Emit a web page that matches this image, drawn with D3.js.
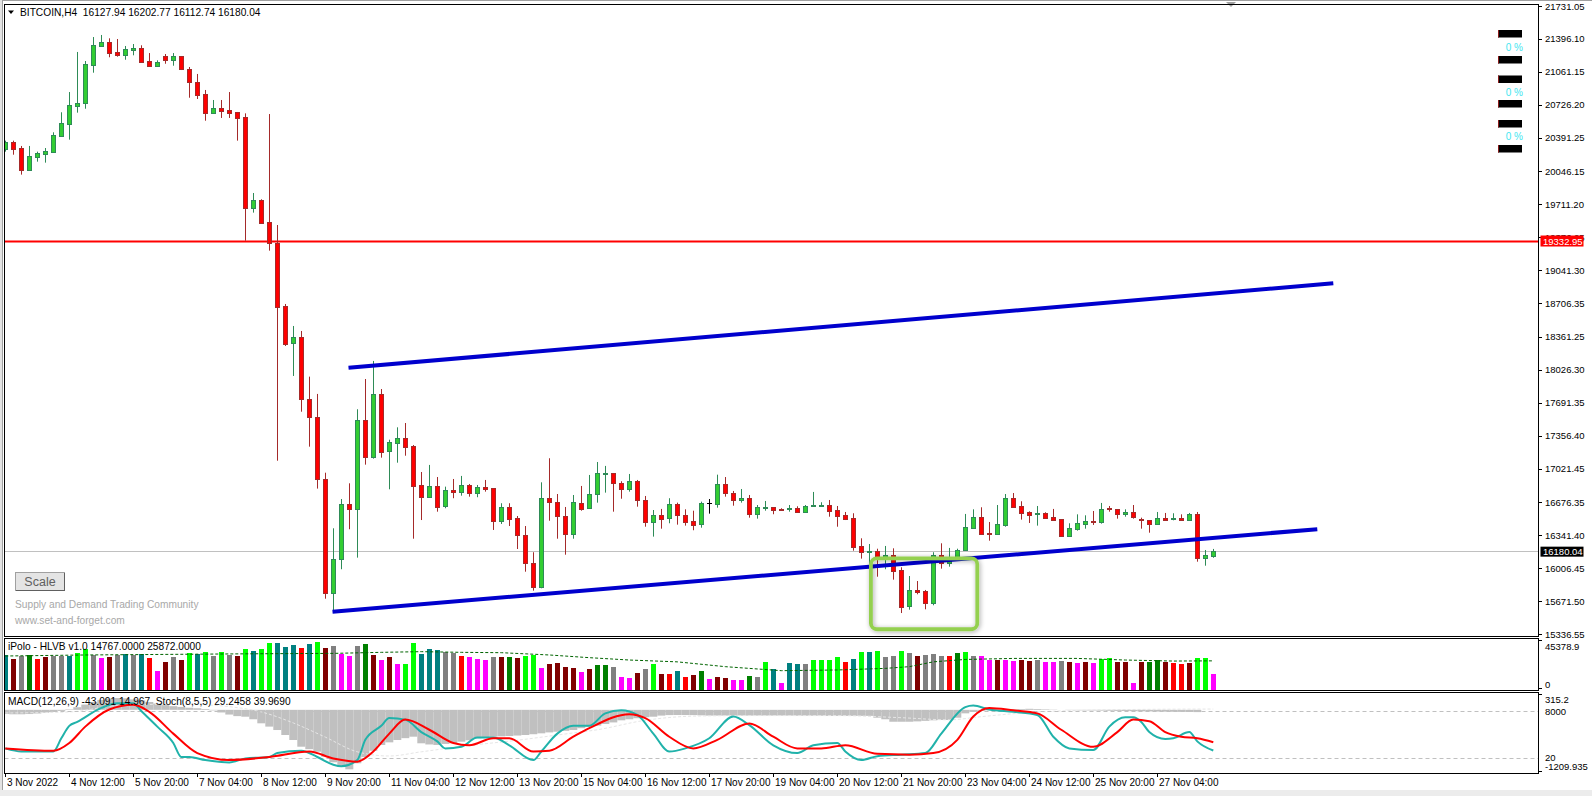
<!DOCTYPE html>
<html><head><meta charset="utf-8">
<script src="https://cdn.jsdelivr.net/npm/d3@7"></script>
<style>
html,body{margin:0;padding:0;background:#fff;overflow:hidden;}
svg{display:block;}
text{font-family:"Liberation Sans",Arial,sans-serif;white-space:pre;}
</style></head><body>
<svg id="chart" width="1592" height="796"></svg>
<script>
// ---------------- DATA ----------------
const symbolName = "BITCOIN,H4";
const lastBar = [16127.94, 16202.77, 16112.74, 16180.04];
const openP = [20272,20346,20285,20064,20197,20227,20248,20410,20533,20716,20746,21134,21324,21361,21263,21235,21286,21303,21171,21123,21219,21184,21222,21089,20957,20835,20645,20692,20675,20652,20601,19677,19756,19532,19315,18676,18297,18358,17727,17543,16915,15751,16097,16657,16606,17513,17136,17777,17197,17285,17329,17248,16851,16735,16841,16640,16803,16786,16851,16776,16834,16820,16490,16627,16515,16345,16060,15818,16718,16681,16535,16352,16671,16617,16759,16969,16976,16871,16816,16892,16698,16474,16545,16515,16660,16545,16487,16454,16671,16664,16864,16772,16704,16722,16556,16620,16627,16610,16606,16620,16576,16637,16647,16650,16599,16548,16515,16230,16172,16182,16118,16138,15988,15619,15782,15775,15656,16138,16057,16118,16192,16419,16525,16365,16358,16450,16718,16637,16576,16562,16565,16525,16505,16338,16409,16460,16487,16480,16617,16606,16562,16576,16505,16494,16460,16518,16505,16518,16501,16559,16114,16127.94];
const highP = [20360,20360,20306,20306,20248,20285,20445,20649,20855,21263,21171,21415,21436,21402,21395,21324,21344,21331,21252,21178,21242,21252,21222,21110,21039,20876,20774,20774,20855,20652,20638,19827,19763,20631,19501,18697,18473,18422,17957,17781,16979,16413,16711,16871,17625,17933,18117,17831,17315,17441,17485,17261,16986,17058,16935,16837,16915,16946,16864,16854,16905,16820,16668,16668,16538,16436,16169,16881,17126,16762,16630,16752,16844,16956,17088,17048,16976,16892,16966,16905,16742,16599,16610,16719,16674,16606,16592,16684,16711,16959,16935,16793,16813,16752,16650,16691,16627,16617,16650,16637,16650,16783,16678,16701,16640,16579,16566,16311,16253,16205,16233,16209,16016,15927,15876,15785,16169,16260,16213,16205,16559,16606,16627,16477,16650,16762,16772,16688,16586,16640,16576,16610,16505,16464,16555,16545,16589,16671,16640,16606,16606,16650,16521,16494,16579,16569,16566,16555,16569,16579,16192,16202.77];
const lowP = [20248,20217,20014,20054,20146,20136,20238,20410,20370,20645,20685,21052,21317,21209,21215,21184,21229,21164,21113,21113,21143,21123,21079,20797,20784,20563,20645,20591,20591,20360,19341,19627,19525,19240,17101,18269,17964,17600,17244,16817,15696,15564,15996,16403,16114,17061,17122,17132,16810,17081,17152,16307,16497,16735,16582,16617,16719,16745,16735,16729,16786,16396,16457,16436,16202,15971,15778,15802,16490,16307,16144,16307,16592,16617,16674,16776,16582,16714,16786,16633,16429,16328,16409,16464,16450,16440,16393,16419,16562,16623,16735,16643,16674,16521,16511,16592,16556,16592,16582,16569,16576,16637,16633,16531,16429,16497,16185,16104,15880,15920,15996,15890,15550,15584,15741,15588,15629,16002,16022,16097,16185,16409,16358,16287,16348,16429,16623,16501,16467,16440,16511,16490,16338,16328,16389,16409,16447,16460,16582,16511,16531,16511,16409,16368,16460,16494,16494,16501,16501,16073,16032,16112.74];
const closeP = [20349,20278,20064,20204,20234,20255,20418,20540,20723,20743,21140,21334,21361,21255,21232,21293,21303,21164,21123,21161,21184,21219,21089,20954,20828,20645,20692,20665,20642,20591,19677,19756,19525,19315,18669,18290,18358,17727,17543,16912,15751,16097,16657,16606,17513,17142,17777,17193,17289,17329,17244,16847,16735,16841,16633,16800,16786,16851,16776,16831,16817,16490,16627,16511,16345,16057,15818,16718,16677,16535,16352,16681,16610,16762,16976,16976,16871,16816,16892,16704,16474,16545,16511,16660,16545,16480,16450,16671,16671,16864,16769,16704,16722,16556,16627,16630,16596,16603,16620,16576,16637,16647,16650,16592,16541,16511,16226,16169,16182,16118,16138,15981,15615,15782,15768,15656,16138,16057,16124,16192,16423,16525,16358,16358,16454,16718,16633,16572,16548,16569,16521,16501,16338,16413,16464,16484,16480,16606,16606,16562,16576,16531,16497,16460,16515,16501,16515,16501,16559,16114,16141,16180.04];

// time axis labels (one every 8 bars, starting at bar 0)
const timeLabels = ["3 Nov 2022","4 Nov 12:00","5 Nov 20:00","7 Nov 04:00","8 Nov 12:00","9 Nov 20:00","11 Nov 04:00","12 Nov 12:00","13 Nov 20:00","15 Nov 04:00","16 Nov 12:00","17 Nov 20:00","19 Nov 04:00","20 Nov 12:00","21 Nov 20:00","23 Nov 04:00","24 Nov 12:00","25 Nov 20:00","27 Nov 04:00"];
const priceTicks = [21731.05,21396.10,21061.15,20726.20,20391.25,20046.15,19711.20,19376.25,19041.30,18706.35,18361.25,18026.30,17691.35,17356.40,17021.45,16676.35,16341.40,16006.45,15671.50,15336.55];
const resistanceLevel = 19332.95;
const upperTrend = [[42.9,18048],[166,18907]];
const lowerTrend = [[40.9,15564],[164,16404]];
const zoneBox = {bar0:108.2, bar1:121.5, pTop:16107, pBot:15385};
const zonePercents = ["0 %","0 %","0 %"];

// iPolo HLVB volume
const volMax = 45378.9;
const volHeader = [14767.0, 25872.0];
const volClass = ["T","M","G","g","R","M","G","G","T","L","L","G","P","M","G","T","G","T","R","P","M","G","M","L","T","L","G","L","G","M","L","T","L","L","T","T","T","R","T","L","M","G","P","P","G","g","M","P","M","P","L","L","T","T","T","G","G","R","P","P","P","G","M","g","M","L","L","P","M","M","M","M","P",
"M","g","g","G","P","P","M","G","L","M","R","T","R","M","g","P","M","M","P","P","g","G","L","T","P","T","T","G","L","L","L","L","R","T","L","T","L","G","G","L","G","M","G","G","G","R","g","L","G","P","P","M","P","P","M","M","G","P","P","G","M","P","M","P","L","L","M","M","P","M","g","g","M","R","R","M","L","L","P"];
const volume = [30981,27490,30108,30981,27490,29526,30108,30108,30108,32726,35927,31272,28363,29526,30690,31854,31272,31854,28654,17018,24872,29526,26617,32726,31854,33599,30108,33599,31272,30108,35927,34762,35927,41163,41453,37672,39708,37090,40290,42326,37090,39126,32144,30108,38835,40581,31272,26617,29235,23127,23127,41745,31854,35927,35344,33890,33017,30108,28945,27490,26617,29526,29235,29235,28363,30399,31272,19345,23127,23999,20799,19636,16145,
18763,22254,22254,20508,11781,10909,15272,18763,23127,14400,14400,17018,11781,13527,17018,10036,11781,10909,9163,9163,12654,11781,24872,18763,6545,23999,23127,23127,26617,26617,26617,29235,24872,27490,33599,33599,34472,29235,30108,34472,32726,30108,31272,31854,30108,30108,32726,33599,30108,30108,26617,26617,26617,25745,26617,25745,26617,24872,24872,25745,24872,24290,24872,23999,27490,28363,24872,24872,6545,24872,24872,26617,24872,23999,23417,23999,28363,28363,14767];
const volAvg = [[0,30100],[10,31000],[20,31500],[30,32000],[41,32400],[47,33300],[52,33900],[57,33300],[62,33000],[68,31000],[73,28650],[78,26600],[84,25000],[90,20800],[97,17300],[104,17900],[110,19300],[113,20800],[116,25000],[120,27100],[126,28000],[134,28000],[140,26600],[146,25700],[151,25872]];

// MACD(12,26,9) + Stoch(8,5,5)
const macdMin = -1209.935, macdMax = 315.2;
const macdHeader = [-43.091, 14.967];
const stochHeader = [29.2458, 39.9690];
const macdHist = [-80,-85,-85,-80,-70,-55,-40,-20,10,50,100,150,190,215,225,220,200,180,150,120,90,70,55,40,30,15,-10,-50,-90,-120,-131,-180,-257,-320,-385,-480,-575,-703,-750,-798,-893,-1000,-1084,-1134,-1019,-900,-780,-670,-620,-575,-540,-512,-638,-660,-670,-650,-638,-607,-580,-543,-525,-512,-505,-499,-490,-480,-465,-448,-430,-417,-400,-385,-350,-322,-300,-270,-240,-200,-180,-160,-140,-131,-110,-100,-99,-99,-100,-105,-110,-110,-110,-110,-110,-110,-110,-110,-110,-110,-110,-112,-112,-112,-112,-115,-115,-115,-115,-115,-115,-150,-180,-227,-227,-227,-220,-210,-200,-194,-194,-150,-67,-40,-20,-10,0,5,10,15,20,15,10,5,0,-5,-8,-10,-12,-15,-18,-20,-22,-25,-28,-30,-33,-35,-37,-39,-41,-43.091];
const macdSignal = [[0,-60],[8,-40],[14,80],[22,110],[28,60],[32,-40],[36,-250],[40,-520],[44,-800],[48,-880],[52,-800],[58,-680],[64,-580],[70,-460],[74,-380],[80,-200],[86,-120],[92,-110],[104,-110],[112,-150],[118,-190],[122,-130],[128,-50],[136,-5],[144,10],[151,14.967]];
const stochMain = [[0,32],[2,28],[6,28],[7,45],[8,61],[9,66],[12,84],[14,90],[16,90],[17,80],[19,60],[21,39],[22,21],[23,21],[25,17],[28,14],[30,19],[33,21],[34,26],[37,29],[39,21],[41,11],[42,9],[44,17],[45,43],[47,61],[48,71],[50,69],[52,53],[54,41],[55,32],[57,34],[59,46],[61,46],[63,36],[66,17],[67,28],[69,51],[71,61],[73,61],[75,77],[77,81],[79,75],[81,51],[83,28],[85,32],[88,45],[91,73],[93,62],[96,36],[99,26],[101,36],[104,39],[105,28],[107,17],[109,22],[112,24],[115,26],[117,51],[120,85],[121,87],[123,82],[126,79],[129,75],[131,47],[133,32],[136,30],[138,60],[140,72],[141,72],[142,66],[143,53],[145,44],[146,45],[148,53],[149,41],[151,29.2458]];
const stochSignal = [[0,32],[6,29],[8,39],[10,60],[13,82],[16,88],[18,79],[21,51],[24,26],[28,17],[33,21],[38,28],[41,19],[44,15],[46,28],[48,51],[50,69],[53,56],[56,39],[58,36],[61,45],[63,45],[66,28],[68,29],[71,47],[73,58],[78,76],[80,71],[83,47],[86,32],[89,43],[93,64],[96,47],[99,32],[102,32],[105,36],[109,25],[113,24],[116,26],[119,43],[121,73],[123,84],[126,81],[129,77],[132,56],[136,34],[139,53],[141,69],[143,67],[145,53],[147,47],[149,45],[151,39.969]];
const stochLevels = [80, 20];

// ---------------- DRAWING ----------------
const N = openP.length;
const svg = d3.select('#chart');
const FONT = 9.5, HFONT = 10.2;
const L = 4.5, R = 1538.5;
const PAN = {mainTop:4.5, mainBot:636.5, volTop:638.5, volBot:690.5, macdTop:692.5, macdBot:773.5};

const x = d3.scaleLinear().domain([0, N-1]).range([5.3, 5.3 + 8*(N-1)]);
const y = d3.scaleLinear().domain([15336.55, 21731.05]).range([634, 6]);
const yv = d3.scaleLinear().domain([0, volMax]).range([690.5, 638.5]);
const ym = d3.scaleLinear().domain([macdMin, macdMax]).range([773.3, 693.3]);
const ys = d3.scaleLinear().domain([0, 100]).range([773.3, 695.5]);

// window frame
svg.append('rect').attr('x',0).attr('y',0).attr('width',1592).attr('height',796).attr('fill','#ffffff');
svg.append('line').attr('x1',0).attr('x2',1592).attr('y1',0.5).attr('y2',0.5).attr('stroke','#a0a0a0');
svg.append('rect').attr('x',0).attr('y',0).attr('width',2).attr('height',796).attr('fill','#e3e3e3');
svg.append('rect').attr('x',0).attr('y',790).attr('width',1592).attr('height',6).attr('fill','#ececec');
svg.append('line').attr('x1',2.5).attr('x2',2.5).attr('y1',0).attr('y2',790).attr('stroke','#a0a0a0');

const defs = svg.append('defs');
function clip(id, y0, y1){
  defs.append('clipPath').attr('id',id).append('rect').attr('x',L+0.5).attr('y',y0).attr('width',R-L-1).attr('height',y1-y0);
  return 'url(#'+id+')';
}
const cMain = clip('cMain', PAN.mainTop+0.5, PAN.mainBot-0.5);
const cVol = clip('cVol', PAN.volTop+0.5, PAN.volBot-0.5);
const cMacd = clip('cMacd', PAN.macdTop+0.5, PAN.macdBot-0.5);

// ---- main panel ----
const gMain = svg.append('g').attr('clip-path', cMain);
gMain.append('line').attr('x1',L).attr('x2',R).attr('y1',Math.round(y(lastBar[3]))+0.5).attr('y2',Math.round(y(lastBar[3]))+0.5).attr('stroke','#c0c0c0').attr('stroke-width',1);
gMain.append('line').attr('x1',L).attr('x2',R).attr('y1',y(resistanceLevel)).attr('y2',y(resistanceLevel)).attr('stroke','#ff0000').attr('stroke-width',2);

const idx = d3.range(N);
const cg = gMain.append('g');
idx.forEach(i=>{
  const o=openP[i], h=highP[i], l=lowP[i], c=closeP[i];
  const cx = Math.round(x(i));
  let wick, body, border;
  if (c > o) { wick='#2e8b57'; body='#32cd32'; border='#2e8b57'; }
  else if (c < o) { wick='#a52a2a'; body='#ff0000'; border='#a52a2a'; }
  else { wick='#000'; body='#000'; border='#000'; }
  cg.append('line').attr('x1',cx+0.5).attr('x2',cx+0.5).attr('y1',y(h)).attr('y2',y(l)).attr('stroke',wick).attr('stroke-width',1);
  const top = Math.round(y(Math.max(o,c))), bot = Math.round(y(Math.min(o,c)));
  if (c === o) {
    cg.append('line').attr('x1',cx-2).attr('x2',cx+3).attr('y1',top+0.5).attr('y2',top+0.5).attr('stroke','#000');
  } else {
    const hgt = Math.max(1, bot-top);
    cg.append('rect').attr('x',cx-1.5).attr('y',top+0.5).attr('width',4).attr('height',hgt).attr('fill',body).attr('stroke',border).attr('stroke-width',1);
  }
});

const tl = d3.line().x(d=>x(d[0])).y(d=>y(d[1]));
gMain.append('path').attr('d',tl(upperTrend)).attr('stroke','#0000cd').attr('stroke-width',4).attr('fill','none');
gMain.append('path').attr('d',tl(lowerTrend)).attr('stroke','#0000cd').attr('stroke-width',4).attr('fill','none');

const flt = defs.append('filter').attr('id','sh').attr('x','-20%').attr('y','-20%').attr('width','140%').attr('height','140%');
flt.append('feGaussianBlur').attr('in','SourceAlpha').attr('stdDeviation',2.5).attr('result','b');
flt.append('feOffset').attr('in','b').attr('dx',1).attr('dy',1).attr('result','o');
flt.append('feComponentTransfer').attr('in','o').attr('result','o2').append('feFuncA').attr('type','linear').attr('slope',0.35);
const fm = flt.append('feMerge'); fm.append('feMergeNode').attr('in','o2'); fm.append('feMergeNode').attr('in','SourceGraphic');
svg.append('rect').attr('x',x(zoneBox.bar0)).attr('y',y(zoneBox.pTop)).attr('width',x(zoneBox.bar1)-x(zoneBox.bar0)).attr('height',y(zoneBox.pBot)-y(zoneBox.pTop))
  .attr('rx',6).attr('fill','none').attr('stroke','#94d050').attr('stroke-width',3.8).attr('filter','url(#sh)');

const markY = [30,56,75.5,100,120,145];
markY.forEach(v=>{
  svg.append('rect').attr('x',1498).attr('y',v).attr('width',24).attr('height',7.5).attr('fill','#000');
  svg.append('rect').attr('x',1498).attr('y',v).attr('width',1).attr('height',7.5).attr('fill','#8b1a1a');
});
[47.7,92.3,136.7].forEach((v,k)=>{
  svg.append('text').attr('x',1523).attr('y',v+3.5).attr('text-anchor','end').attr('font-size',10).attr('fill','#3fe6f0').text(zonePercents[k]);
});

svg.append('path').attr('d','M1226,2 L1236,2 L1231,7 Z').attr('fill','#a0a0a0');

svg.append('path').attr('d','M8,10.5 L14,10.5 L11,14 Z').attr('fill','#000');
svg.append('text').attr('x',20).attr('y',16.3).attr('font-size',HFONT).attr('fill','#000')
  .text(symbolName + '  ' + lastBar.map(v=>v.toFixed(2)).join(' '));

svg.append('rect').attr('x',15.5).attr('y',572.5).attr('width',49).attr('height',18).attr('fill','#e4e4e4').attr('stroke','#a0a0a0');
svg.append('line').attr('x1',16).attr('x2',65).attr('y1',590.5).attr('y2',590.5).attr('stroke','#606060');
svg.append('line').attr('x1',64.5).attr('x2',64.5).attr('y1',573).attr('y2',591).attr('stroke','#606060');
svg.append('text').attr('x',40).attr('y',586).attr('text-anchor','middle').attr('font-size',12.5).attr('fill','#606060').text('Scale');
svg.append('text').attr('x',15).attr('y',607.5).attr('font-size',HFONT).attr('fill','#a8a8a8').text('Supply and Demand Trading Community');
svg.append('text').attr('x',15).attr('y',623.5).attr('font-size',HFONT).attr('fill','#a8a8a8').text('www.set-and-forget.com');

// ---- volume panel ----
const volColor = {T:'#008080', M:'#800000', G:'#808080', g:'#008000', R:'#ff0000', L:'#00ff00', P:'#ff00ff'};
const gVol = svg.append('g').attr('clip-path', cVol);
idx.forEach(i=>{
  const cx = Math.round(x(i));
  const t = Math.round(yv(volume[i]));
  gVol.append('rect').attr('x',cx-2).attr('y',t).attr('width',5).attr('height',Math.max(0,690.5-t)).attr('fill',volColor[volClass[i]]);
});
gVol.append('path').attr('d',d3.line().x(d=>x(d[0])).y(d=>yv(d[1]))(volAvg)).attr('fill','none').attr('stroke','#006400').attr('stroke-width',1).attr('stroke-dasharray','3,2');
svg.append('text').attr('x',8).attr('y',650.2).attr('font-size',HFONT).attr('fill','#000')
  .text('iPolo - HLVB v1.0 ' + volHeader.map(v=>v.toFixed(4)).join(' '));

// ---- macd panel ----
const gM = svg.append('g').attr('clip-path', cMacd);
const z0 = ym(0);
idx.forEach(i=>{
  const cx = x(i);
  const v = ym(macdHist[i]);
  gM.append('rect').attr('x',cx-4).attr('y',Math.min(v,z0)).attr('width',8).attr('height',Math.abs(v-z0)).attr('fill','#c0c0c0');
});
gM.append('path').attr('d',d3.line().curve(d3.curveMonotoneX).x(d=>x(d[0])).y(d=>ym(d[1]))(macdSignal)).attr('fill','none').attr('stroke','#e6e6e6').attr('stroke-width',1).attr('stroke-dasharray','3,2');
stochLevels.forEach(v=>{
  gM.append('line').attr('x1',L).attr('x2',R).attr('y1',Math.round(ys(v))+0.5).attr('y2',Math.round(ys(v))+0.5).attr('stroke','#c0c0c0').attr('stroke-dasharray','4,3');
});
const sl = d3.line().curve(d3.curveMonotoneX).x(d=>x(d[0])).y(d=>ys(d[1]));
gM.append('path').attr('d',sl(stochMain)).attr('fill','none').attr('stroke','#20b2aa').attr('stroke-width',2);
gM.append('path').attr('d',sl(stochSignal)).attr('fill','none').attr('stroke','#ff0000').attr('stroke-width',2);
svg.append('text').attr('x',8).attr('y',705.2).attr('font-size',HFONT).attr('fill','#000')
  .text('MACD(12,26,9) ' + macdHeader[0].toFixed(3) + ' ' + macdHeader[1].toFixed(3) + '  Stoch(8,5,5) ' + stochHeader.map(v=>v.toFixed(4)).join(' '));

// ---- panel borders ----
[[PAN.mainTop,PAN.mainBot],[PAN.volTop,PAN.volBot],[PAN.macdTop,PAN.macdBot]].forEach(p=>{
  svg.append('rect').attr('x',L).attr('y',p[0]).attr('width',R-L).attr('height',p[1]-p[0]).attr('fill','none').attr('stroke','#000').attr('stroke-width',1);
});

// ---- price axis ----
const ax = svg.append('g');
priceTicks.forEach(v=>{
  const yy = y(v);
  ax.append('line').attr('x1',R).attr('x2',R+3.5).attr('y1',Math.round(yy)+0.5).attr('y2',Math.round(yy)+0.5).attr('stroke','#000');
  ax.append('text').attr('x',1545).attr('y',yy+3.5).attr('font-size',FONT).attr('fill','#000').text(v.toFixed(2));
});
const ry = y(resistanceLevel);
ax.append('rect').attr('x',1540.5).attr('y',ry-6).attr('width',43).attr('height',11).attr('fill','#ff0000');
ax.append('text').attr('x',1543).attr('y',ry+3.5).attr('font-size',FONT).attr('fill','#fff').text(resistanceLevel.toFixed(2));
const by = y(lastBar[3]);
ax.append('rect').attr('x',1540.5).attr('y',by-4.5).attr('width',43).attr('height',10).attr('fill','#000');
ax.append('text').attr('x',1543).attr('y',by+4).attr('font-size',FONT).attr('fill','#fff').text(lastBar[3].toFixed(2));

ax.append('text').attr('x',1545).attr('y',yv(volMax)+11).attr('font-size',FONT).text(String(volMax));
ax.append('text').attr('x',1545).attr('y',yv(0)-3).attr('font-size',FONT).text('0');
ax.append('text').attr('x',1545).attr('y',ym(macdMax)+10).attr('font-size',FONT).text(String(macdMax));
ax.append('text').attr('x',1545).attr('y',ys(80)+3.5).attr('font-size',FONT).text('8000');
ax.append('text').attr('x',1545).attr('y',ys(20)+3).attr('font-size',FONT).text('20');
ax.append('text').attr('x',1545).attr('y',ym(macdMin)-3).attr('font-size',FONT).text(String(macdMin));
[[PAN.volTop,PAN.volBot],[PAN.macdTop,PAN.macdBot]].forEach(p=>{
  ax.append('line').attr('x1',R).attr('x2',R+3.5).attr('y1',p[0]+2).attr('y2',p[0]+2).attr('stroke','#000');
  ax.append('line').attr('x1',R).attr('x2',R+3.5).attr('y1',p[1]-2).attr('y2',p[1]-2).attr('stroke','#000');
});

// ---- time axis ----
timeLabels.forEach((t,k)=>{
  const xx = Math.round(x(k*8));
  ax.append('line').attr('x1',xx+0.5).attr('x2',xx+0.5).attr('y1',PAN.macdBot).attr('y2',PAN.macdBot+3.5).attr('stroke','#000');
  ax.append('text').attr('x',xx+2).attr('y',786).attr('font-size',10).attr('fill','#000').text(t);
});
</script>
</body></html>
